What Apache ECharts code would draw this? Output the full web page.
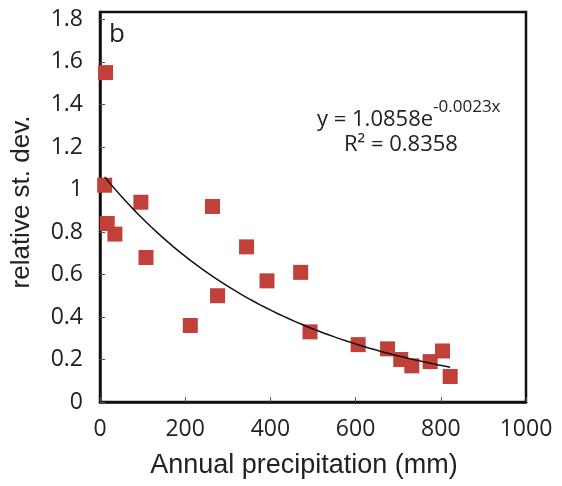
<!DOCTYPE html>
<html lang="en">
<head>
    <meta charset="UTF-8">
    <title>relative st. dev. vs precipitation</title>
    <script src="https://cdn.jsdelivr.net/npm/echarts@6/dist/echarts.min.js"></script>
    <style>
        html, body {
            margin: 0;
            padding: 0;
            background: #fff;
        }

        #main {
            width: 562px;
            height: 486px;
        }
    </style>
</head>
<body>
<div id="main"></div>

<script type="text/javascript">
    // annual precipitation (mm) and relative st. dev.
    const precip = [13, 11, 17, 35, 96, 108, 212, 264, 276, 344, 392, 471, 493, 606, 675, 706, 732, 775, 804, 822];
    const relDev = [1.55, 1.02, 0.84, 0.79, 0.94, 0.68, 0.36, 0.92, 0.50, 0.73, 0.57, 0.61, 0.33, 0.27, 0.25, 0.20, 0.17, 0.19, 0.24, 0.12];

    // fitted trend printed on the chart: y = a * e^(b x)
    const trendA = 1.0858;
    const trendB = -0.0023;
    const trendR2 = 0.8358;

    const xTicks = [0, 200, 400, 600, 800, 1000];
    const yTicks = [0, 0.2, 0.4, 0.6, 0.8, 1, 1.2, 1.4, 1.6, 1.8];

    let points = precip.map(function (x, i) {
        return [x, relDev[i]];
    });

    // trendline spans the data range
    let xMin = Math.min.apply(null, precip);
    let xMax = Math.max.apply(null, precip);
    let trend = [];
    for (let k = 0; k <= 60; k++) {
        let x = xMin + (xMax - xMin) * k / 60;
        trend.push([x, trendA * Math.exp(trendB * x)]);
    }

    let chart = echarts.init(document.getElementById('main'), null, {renderer: 'canvas'});
    let font = '"Open Sans", "Liberation Sans", sans-serif';
    let titleFont = '"Liberation Sans", Arial, sans-serif';

    let option = {
        animation: false,
        backgroundColor: '#fff',
        textStyle: {fontFamily: font},
        grid: {
            left: 100,
            right: 36,
            top: 12,
            bottom: 84,
            outerBoundsMode: 'none',
            containLabel: false,
            show: true,
            borderColor: '#111',
            borderWidth: 2.5
        },
        xAxis: {
            type: 'value',
            min: xTicks[0],
            max: xTicks[xTicks.length - 1],
            interval: 200,
            name: 'Annual precipitation (mm)',
            nameLocation: 'middle',
            nameGap: 50,
            nameTextStyle: {fontSize: 27, color: '#222', fontFamily: titleFont, padding: [0, 18, 0, 0]},
            axisLine: {show: true, lineStyle: {color: '#111', width: 2.5}},
            axisTick: {show: true, inside: true, length: 5, lineStyle: {color: '#555'}},
            axisLabel: {
                fontSize: 23,
                color: '#222',
                margin: 16,
                fontFamily: font,
                formatter: function (v) {
                    return String(v);
                }
            },
            splitLine: {show: false}
        },
        yAxis: {
            type: 'value',
            min: yTicks[0],
            max: 1.835,
            interval: 0.2,
            name: 'relative st. dev.',
            nameLocation: 'middle',
            nameGap: 65,
            nameTextStyle: {fontSize: 26, color: '#222', fontFamily: titleFont, padding: [0, 0, 0, 10]},
            axisLine: {show: true, lineStyle: {color: '#111', width: 2.5}},
            axisTick: {show: true, inside: true, length: 5, lineStyle: {color: '#555'}},
            axisLabel: {
                fontSize: 23,
                color: '#222',
                margin: 17,
                fontFamily: font,
                showMaxLabel: false,
                formatter: function (v) {
                    return String(Math.round(v * 10) / 10);
                }
            },
            splitLine: {show: false}
        },
        graphic: [{
            type: 'text',
            left: 109,
            top: 22,
            style: {text: 'b', fill: '#222', font: '26px ' + font}
        }, {
            type: 'text',
            left: 317,
            top: 99,
            style: {
                text: '{n|y = ' + trendA + 'e}{s|' + trendB + 'x}',
                rich: {
                    n: {fontSize: 22, fill: '#222', fontFamily: font, lineHeight: 32, verticalAlign: 'bottom'},
                    s: {fontSize: 17, fill: '#222', fontFamily: font, lineHeight: 32, verticalAlign: 'top'}
                }
            }
        }, {
            type: 'text',
            left: 344,
            top: 134,
            style: {text: 'R² = ' + trendR2, fill: '#222', font: '22px ' + font}
        }],
        series: [{
            name: 'trend',
            type: 'line',
            data: trend,
            showSymbol: false,
            smooth: false,
            lineStyle: {color: '#111', width: 1.5},
            z: 3
        }, {
            name: 'relative st. dev.',
            type: 'scatter',
            data: points,
            symbol: 'rect',
            symbolSize: 15,
            itemStyle: {color: '#c1403a', opacity: 1},
            z: 2
        }]
    };

    chart.setOption(option);
</script>
</body>
</html>
